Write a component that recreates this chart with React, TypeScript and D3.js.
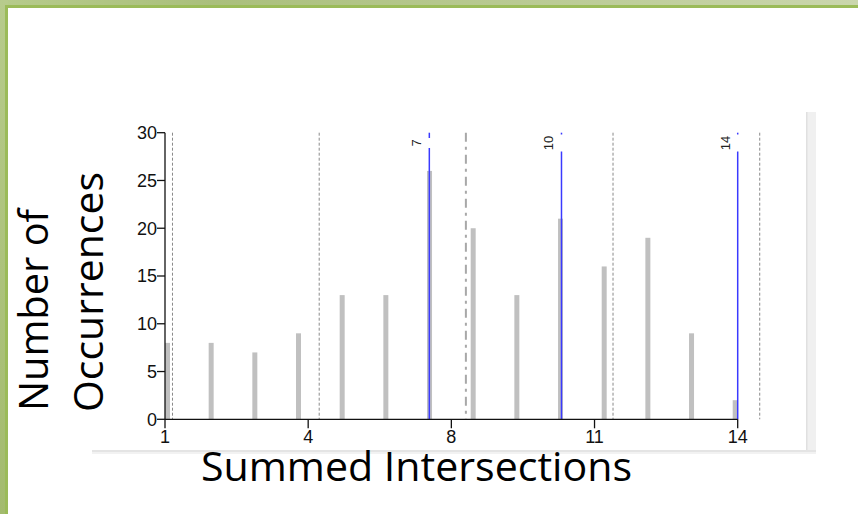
import React from "react";
import * as d3 from "d3";

const W = 858;
const H = 514;

// histogram of summed intersections
const sums = [1, 2, 3, 4, 5, 6, 7, 8, 9, 10, 11, 12, 13, 14];
const counts = [8, 8, 7, 9, 13, 13, 26, 20, 13, 21, 16, 19, 9, 2];
const yTicks = [0, 5, 10, 15, 20, 25, 30];
const xTicks = [1, 4.25, 7.5, 10.75, 14];
const binEdges = [1.17, 4.5, 11.17, 14.5];
const meanLine = 7.83;
const markers = [7, 10, 14];

const AXIS_FONT = "'Liberation Sans', Arial, sans-serif";
const TITLE_FONT = "'Open Sans', 'Noto Sans', sans-serif";

export default function App() {
  const x = d3.scaleLinear().domain([1, 14]).range([165, 737.7]);
  const y = d3.scaleLinear().domain([0, 30]).range([419.3, 132.7]);
  const barW = 5;
  // bars sit inside the axis span
  const xBar = x.copy().range([x.range()[0] + barW / 2, x.range()[1] - barW / 2]);
  const [y0, yTop] = y.range();
  const labelMid = 143;

  return (
    <div style={{ position: "absolute", left: 0, top: 0 }}>
      <svg width={W} height={H} style={{ display: "block" }}>
        <defs>
          <linearGradient id="topBand" x1="0" x2="1" y1="0" y2="0">
            <stop offset="0%" stopColor="#b6cb8b" />
            <stop offset="25%" stopColor="#aabf7c" />
            <stop offset="100%" stopColor="#cad6ad" />
          </linearGradient>
          <linearGradient id="leftBand" x1="0" x2="0" y1="0" y2="1">
            <stop offset="0%" stopColor="#b7cb8c" />
            <stop offset="100%" stopColor="#a3bb6e" />
          </linearGradient>
        </defs>

        {/* slide frame */}
        <rect x={0} y={0} width={W} height={H} fill="url(#topBand)" />
        <rect x={0} y={0} width={8} height={H} fill="url(#leftBand)" />
        <rect x={8} y={8} width={W} height={H} fill="#ffffff" />
        <path d={`M6.5,${H} V6.5 H${W}`} fill="none" stroke="#9bbb59" strokeWidth={3} />

        {/* pasted picture edges */}
        <rect x={806} y={112} width={10} height={340} fill="#f0f0f0" />
        <rect x={806} y={112} width={1.5} height={340} fill="#e0e0e0" />
        <rect x={92} y={450} width={724} height={2} fill="#e4e4e4" />
        <rect x={92} y={452} width={724} height={2} fill="#f2f2f2" />

        {/* bars */}
        {sums.map((s, i) => (
          <rect
            key={s}
            x={xBar(s) - barW / 2}
            y={y(counts[i])}
            width={barW}
            height={y(0) - y(counts[i])}
            fill="#c0c0c0"
          />
        ))}

        {/* bin edges */}
        {binEdges.map((v) => (
          <line
            key={v}
            x1={x(v)}
            x2={x(v)}
            y1={yTop}
            y2={y0}
            stroke="#8a8a8a"
            strokeWidth={1}
            strokeDasharray="3 2"
          />
        ))}
        <line
          x1={x(meanLine)}
          x2={x(meanLine)}
          y1={yTop}
          y2={y0}
          stroke="#a8a8a8"
          strokeWidth={2}
          strokeDasharray="9 5 3 5"
        />

        {/* marked values */}
        {markers.map((m) => {
          const label = String(m);
          const half = (label.length * 7 + 3) / 2;
          const lx = x(m);
          return (
            <g key={m}>
              <line x1={lx} x2={lx} y1={yTop} y2={labelMid - half} stroke="#3a3aff" strokeWidth={1.5} />
              <line x1={lx} x2={lx} y1={labelMid + half} y2={y0} stroke="#3a3aff" strokeWidth={1.5} />
              <text
                transform={`translate(${lx - 8},${labelMid}) rotate(-90)`}
                textAnchor="middle"
                fontFamily={AXIS_FONT}
                fontSize={13}
                fill="#222"
              >
                {label}
              </text>
            </g>
          );
        })}

        {/* y axis */}
        <line x1={x(1)} x2={x(1)} y1={yTop} y2={y0} stroke="#111" strokeWidth={1.3} />
        {yTicks.map((t) => (
          <g key={t}>
            <line x1={x(1) - 8} x2={x(1)} y1={y(t)} y2={y(t)} stroke="#111" strokeWidth={1.3} />
            <text
              x={x(1) - 8}
              y={y(t)}
              dy="0.36em"
              textAnchor="end"
              fontFamily={AXIS_FONT}
              fontSize={18}
              fill="#111"
            >
              {t}
            </text>
          </g>
        ))}

        {/* x axis */}
        <line x1={x(1)} x2={x(14)} y1={y0} y2={y0} stroke="#111" strokeWidth={1.3} />
        {xTicks.map((t) => (
          <g key={t}>
            <line x1={x(t)} x2={x(t)} y1={y0} y2={y0 + 9} stroke="#111" strokeWidth={1.3} />
            <text
              x={x(t)}
              y={y0 + 24}
              textAnchor="middle"
              fontFamily={AXIS_FONT}
              fontSize={18}
              fill="#111"
            >
              {Math.round(t)}
            </text>
          </g>
        ))}

        {/* titles */}
        <text
          x={201}
          y={481}
          fontFamily={TITLE_FONT}
          fontSize={41}
          textLength={431}
          lengthAdjust="spacingAndGlyphs"
          fill="#000"
        >
          Summed Intersections
        </text>
        <text
          transform="translate(48,411) rotate(-90)"
          fontFamily={TITLE_FONT}
          fontSize={41}
          textLength={202}
          lengthAdjust="spacingAndGlyphs"
          fill="#000"
        >
          Number of
        </text>
        <text
          transform="translate(103,412) rotate(-90)"
          fontFamily={TITLE_FONT}
          fontSize={41}
          textLength={240}
          lengthAdjust="spacingAndGlyphs"
          fill="#000"
        >
          Occurrences
        </text>
      </svg>
    </div>
  );
}
